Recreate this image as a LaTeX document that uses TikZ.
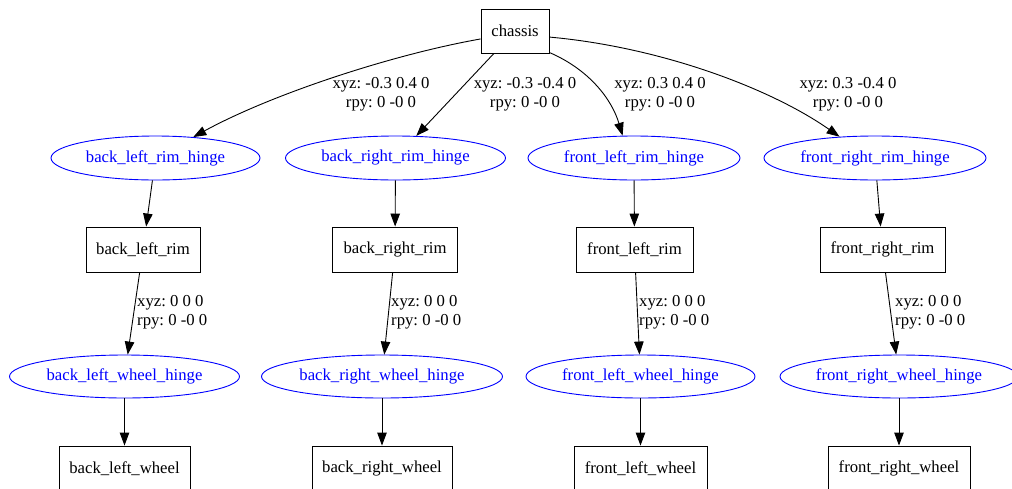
\documentclass[tikz,border=0pt]{standalone}
\usepackage{fontspec}
\setmainfont{Liberation Serif}
\usetikzlibrary{shapes.geometric,arrows.meta}
\definecolor{hingeblue}{RGB}{0,0,255}
\frenchspacing
\tikzset{
  linkbox/.style={draw=black, line width=0.9pt, rectangle, inner sep=0pt, minimum height=45pt, text=black},
  hinge/.style={draw=hingeblue, line width=0.9pt, ellipse, inner sep=0pt, minimum height=44pt, text=hingeblue},
  edge/.style={draw=black, line width=0.9pt, -{Triangle[length=13pt,width=9.5pt]}},
  lbl/.style={inner sep=0pt, text=black, font=\fontsize{16.7}{18.5}\selectfont}
}
\begin{document}
\begin{tikzpicture}[x=1pt, y=-1pt, font=\fontsize{16.7}{18.5}\selectfont]
\useasboundingbox (0,0) rectangle (1012,488);
% top
\node[linkbox, minimum width=68pt, minimum height=44pt] (chassis) at (515,31) {chassis};
% row 1 hinges
\node[hinge, minimum width=209pt] (blrh) at (155.5,158) {back\_left\_rim\_hinge};
\node[hinge, minimum width=220pt] (brrh) at (395.5,158) {back\_right\_rim\_hinge};
\node[hinge, minimum width=212pt] (flrh) at (634,158) {front\_left\_rim\_hinge};
\node[hinge, minimum width=222pt] (frrh) at (875,158) {front\_right\_rim\_hinge};
% row 2 rims
\node[linkbox, minimum width=114pt] (blrim) at (143,249.5) {back\_left\_rim};
\node[linkbox, minimum width=125pt] (brrim) at (395,249.5) {back\_right\_rim};
\node[linkbox, minimum width=117pt] (flrim) at (634.5,249.5) {front\_left\_rim};
\node[linkbox, minimum width=125pt] (frrim) at (882.5,249.5) {front\_right\_rim};
% row 3 wheel hinges
\node[hinge, minimum width=230pt, minimum height=43pt] (blwh) at (124.5,376.5) {back\_left\_wheel\_hinge};
\node[hinge, minimum width=241pt, minimum height=43pt] (brwh) at (382,376.5) {back\_right\_wheel\_hinge};
\node[hinge, minimum width=229pt, minimum height=43pt] (flwh) at (640.5,376.5) {front\_left\_wheel\_hinge};
\node[hinge, minimum width=238pt, minimum height=43pt] (frwh) at (899,376.5) {front\_right\_wheel\_hinge};
% row 4 wheels
\node[linkbox, minimum width=131pt] (blw) at (124.5,468.5) {back\_left\_wheel};
\node[linkbox, minimum width=140pt] (brw) at (382,468.5) {back\_right\_wheel};
\node[linkbox, minimum width=133pt] (flw) at (640.5,468.5) {front\_left\_wheel};
\node[linkbox, minimum width=142pt] (frw) at (899,468.5) {front\_right\_wheel};
% edges chassis -> rim hinges
\draw[edge] (chassis.193) .. controls (390,55) and (270,95) .. (blrh.29);
\draw[edge] (chassis) -- (brrh);
\draw[edge] (chassis.328) .. controls (590,70) and (612,100) .. (flrh.117);
\draw[edge] (chassis.350) .. controls (660,47) and (770,88) .. (frrh.149);
\node[lbl, align=center] (l1) at (381,94) {xyz: -0.3 0.4 0\\rpy: 0 -0 0};
\node[lbl, align=center] (l2) at (525,94) {xyz: -0.3 -0.4 0\\rpy: 0 -0 0};
\node[lbl, align=center] (l3) at (660,94) {xyz: 0.3 0.4 0\\rpy: 0 -0 0};
\node[lbl, align=center] (l4) at (848,94) {xyz: 0.3 -0.4 0\\rpy: 0 -0 0};
% hinge -> rim
\draw[edge] (blrh) -- (blrim);
\draw[edge] (brrh) -- (brrim);
\draw[edge] (flrh) -- (flrim);
\draw[edge] (frrh) -- (frrim);
% rim -> wheel hinge
\draw[edge] (blrim) -- (blwh);
\draw[edge] (brrim) -- (brwh);
\draw[edge] (flrim) -- (flwh);
\draw[edge] (frrim) -- (frwh);
\node[lbl, align=left, anchor=west] (l5) at (137,312) {xyz: 0 0 0\\rpy: 0 -0 0};
\node[lbl, align=left, anchor=west] (l6) at (391,312) {xyz: 0 0 0\\rpy: 0 -0 0};
\node[lbl, align=left, anchor=west] (l7) at (639,312) {xyz: 0 0 0\\rpy: 0 -0 0};
\node[lbl, align=left, anchor=west] (l8) at (895,312) {xyz: 0 0 0\\rpy: 0 -0 0};
% wheel hinge -> wheel
\draw[edge] (blwh) -- (blw);
\draw[edge] (brwh) -- (brw);
\draw[edge] (flwh) -- (flw);
\draw[edge] (frwh) -- (frw);
\end{tikzpicture}
\end{document}
